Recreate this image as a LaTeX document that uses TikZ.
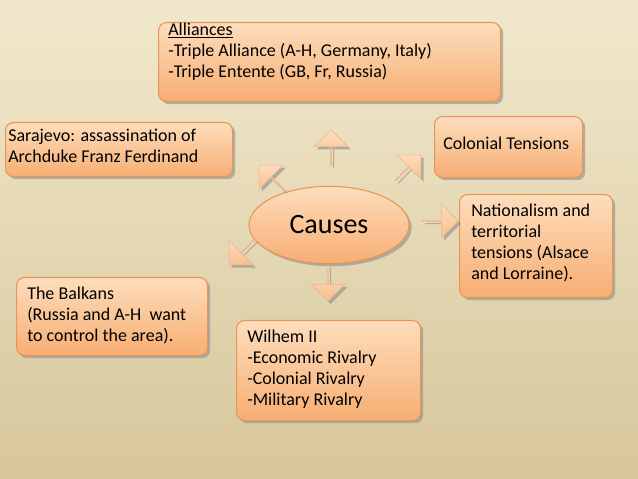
\documentclass[tikz,border=0pt]{standalone}
\usepackage{fontspec}
\setmainfont{Carlito}
\usetikzlibrary{shapes.arrows,shapes.geometric,shadows}
\definecolor{bgA}{HTML}{F1E8CC}
\definecolor{bgB}{HTML}{D8C79C}
\definecolor{bxT}{HTML}{FDDDBC}
\definecolor{bxB}{HTML}{F7AE73}
\definecolor{bxD}{HTML}{E5965A}
\tikzset{
 box/.style={draw=bxD, line width=0.8pt, rounded corners=6pt, top color=bxT, bottom color=bxB, anchor=north west, inner sep=0pt, drop shadow={shadow xshift=2pt, shadow yshift=-2pt, fill=black!45, opacity=0.6}},
 txt/.style={anchor=north west, align=left, inner sep=0pt, font=\fontsize{13.5}{15.75}\selectfont},
 arr/.style={single arrow, draw=bxD!70, line width=0.4pt, inner sep=0pt, minimum height=27pt, minimum width=25.5pt, single arrow head extend=6pt, top color=bxT, bottom color=bxB!80, drop shadow={shadow xshift=2pt, shadow yshift=-2pt, fill=black!45, opacity=0.6}}
}
\begin{document}
\begin{tikzpicture}[x=0.75pt,y=0.75pt]
\useasboundingbox (0,0) rectangle (638,478);
\shade[left color=bgA, right color=bgB, shading angle=0] (0,0) rectangle (638,478);
\shade[top color=bgA, bottom color=bgB, opacity=0.5] (0,0) rectangle (638,478);
% boxes
\node[box, minimum width=0.75*342pt, minimum height=0.75*79pt] (b1) at (158,456) {};
\node[txt] (t1) at (168,455) {\underline{Alliances}\\-Triple Alliance (A-H, Germany, Italy)\\-Triple Entente (GB, Fr, Russia)};
\node[box, minimum width=0.75*227pt, minimum height=0.75*54pt] (b2) at (5,356) {};
\node[txt] (t2) at (8,349) {Sarajevo: assassination of\\Archduke Franz Ferdinand};
\node[box, minimum width=0.75*148pt, minimum height=0.75*61pt] (b3) at (434,362) {};
\node[txt] (t3) at (443,341) {Colonial Tensions};
\node[box, minimum width=0.75*153pt, minimum height=0.75*103pt] (b4) at (459,284) {};
\node[txt] (t4) at (471,274) {Nationalism and\\territorial\\tensions (Alsace\\and Lorraine).};
\node[box, minimum width=0.75*191pt, minimum height=0.75*78pt] (b5) at (16,201) {};
\node[txt] (t5) at (27,191) {The Balkans\\(Russia and A-H\ \ want\\to control the area).};
\node[box, minimum width=0.75*184pt, minimum height=0.75*100pt] (b6) at (236,158) {};
\node[txt] (t6) at (247,148) {Wilhem II\\-Economic Rivalry\\-Colonial Rivalry\\-Military Rivalry};
% center
\node[ellipse, draw=bxD, line width=0.8pt, top color=bxT, bottom color=bxB, minimum width=120pt, minimum height=58pt, inner sep=0pt, font=\fontsize{21}{24}\selectfont, drop shadow={shadow xshift=2pt, shadow yshift=-2pt, fill=black!45, opacity=0.6}] (c) at (329,253) {Causes};
% arrows
\node[arr, rotate=90] (a1) at (331,330) {};
\node[arr, rotate=135] (a2) at (272,300) {};
\node[arr, rotate=45] (a3) at (408,310) {};
\node[arr, rotate=0] (a4) at (440,257) {};
\node[arr, rotate=-90] (a5) at (328,195) {};
\node[arr, rotate=-135] (a6) at (242,226) {};
\end{tikzpicture}
\end{document}
